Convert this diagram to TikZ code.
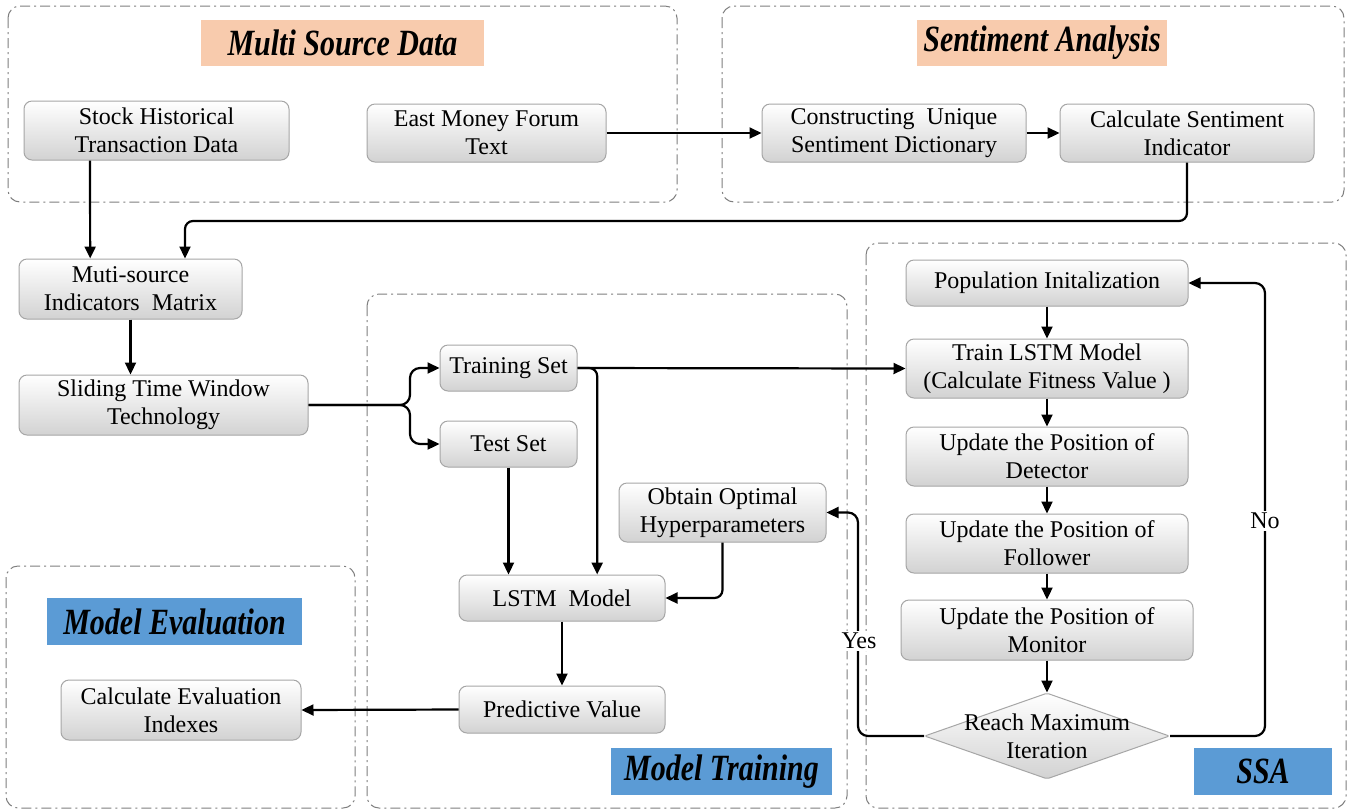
\documentclass[tikz,border=0pt]{standalone}
\usepackage{fontspec}
\setmainfont{Liberation Serif}
\newfontfamily\titlefont[FakeStretch=0.81]{Liberation Serif}
\usetikzlibrary{shapes.geometric,arrows.meta,calc}
\definecolor{peach}{HTML}{F8CBAD}
\definecolor{tblue}{HTML}{5B9BD5}
\definecolor{framegray}{HTML}{7F7F7F}
\definecolor{boxedge}{HTML}{A6A6A6}
\definecolor{boxbot}{HTML}{D2D2D2}
\begin{document}
\begin{tikzpicture}[x=0.5pt,y=-0.5pt,
 frame/.style={draw=framegray, line width=0.5pt, rounded corners=6pt, dash pattern=on 5pt off 2pt on 1pt off 2pt},
 title/.style={inner sep=0pt, font=\titlefont\fontsize{18.5}{20}\selectfont\bfseries\itshape},
 box/.style={draw=boxedge, line width=0.5pt, rounded corners=4pt, top color=white, bottom color=boxbot, align=center, inner sep=1pt, font=\fontsize{12}{14}\selectfont},
 arr/.style={-{Triangle[length=6pt,width=5.5pt]}, line width=1.1pt},
 lbl/.style={fill=white, inner sep=1pt, font=\fontsize{12}{14}\selectfont}
]
\useasboundingbox (0,0) rectangle (1351,811);
\fill[white] (0,0) rectangle (1351,811);

% frames
\draw[frame] (8,6) rectangle (677,202);
\draw[frame] (722,6) rectangle (1344,202);
\draw[frame] (367,294) rectangle (847,808);
\draw[frame] (866,243) rectangle (1346,808);
\draw[frame] (6,566) rectangle (355,808);

% titles
\node[title, fill=peach, minimum width=141.5pt, minimum height=23pt] (t1) at (342.5,43) {Multi Source Data};
\node[title, fill=peach, minimum width=125pt, minimum height=23pt] (t2) at (1042,43) {Sentiment Analysis};
\node[title, fill=tblue, minimum width=127.5pt, minimum height=23.5pt] (t3) at (174.5,621.5) {Model Evaluation};
\node[title, fill=tblue, minimum width=110.5pt, minimum height=23.5pt] (t4) at (721.5,771.5) {Model Training};
\node[title, fill=tblue, minimum width=69pt, minimum height=23.5pt] (t5) at (1263,771.5) {SSA};

% nodes
\node[box, minimum width=132.5pt, minimum height=29.5pt] (stock) at (156.5,130.5) {Stock Historical\\Transaction Data};
\node[box, minimum width=119.5pt, minimum height=29pt] (east) at (486.5,133) {East Money Forum\\Text};
\node[box, minimum width=132pt, minimum height=29pt] (cons) at (894,133) {Constructing~ Unique\\Sentiment Dictionary};
\node[box, minimum width=127pt, minimum height=29pt] (calc) at (1187,133) {Calculate Sentiment\\Indicator};
\node[box, minimum width=111.5pt, minimum height=30pt] (muti) at (130.5,289) {Muti-source\\Indicators~ Matrix};
\node[box, minimum width=144.5pt, minimum height=30pt] (slide) at (163.5,405) {Sliding Time Window\\Technology};
\node[box, minimum width=68.5pt, minimum height=23pt] (train) at (508.5,368) {Training Set};
\node[box, minimum width=68.5pt, minimum height=23pt] (test) at (508.5,444) {Test Set};
\node[box, minimum width=103.5pt, minimum height=29.5pt] (obtain) at (722.5,512.5) {Obtain Optimal\\Hyperparameters};
\node[box, minimum width=103pt, minimum height=23pt] (lstm) at (562,598) {LSTM~ Model};
\node[box, minimum width=103pt, minimum height=23.5pt] (pred) at (562,709.5) {Predictive Value};
\node[box, minimum width=120pt, minimum height=30pt] (evalc) at (181,710) {Calculate Evaluation\\Indexes};
\node[box, minimum width=141pt, minimum height=23pt] (pop) at (1047,283) {Population Initalization};
\node[box, minimum width=141pt, minimum height=29.5pt] (tlstm) at (1047,368.5) {Train LSTM Model\\(Calculate Fitness Value )};
\node[box, minimum width=141pt, minimum height=29.5pt] (det) at (1047,456.5) {Update the Position of\\Detector};
\node[box, minimum width=141pt, minimum height=29.5pt] (fol) at (1047,543.5) {Update the Position of\\Follower};
\node[box, minimum width=146pt, minimum height=30pt] (mon) at (1047,630) {Update the Position of\\Monitor};
\node[box, diamond, rounded corners=1pt, inner sep=0pt, minimum width=122.5pt, minimum height=43pt,
  label={[align=center, font=\fontsize{12}{14}\selectfont]center:Reach Maximum\\Iteration}] (dia) at (1047,736) {};

% connectors
\draw[arr] (east.east) -- (cons.west);
\draw[arr] (cons.east) -- (calc.west);
\draw[arr] ($(stock.south west)!0.25!(stock.south east)$) -- ($(muti.north west)!0.32!(muti.north east)$);
\coordinate (sc) at (185,221);
\draw[arr, rounded corners=4pt] (calc.south) |- (sc) -- (sc |- muti.north);
\draw[arr] (muti.south) -- (muti.south |- slide.north);
\coordinate (br) at (410,405);
\draw[arr, rounded corners=5pt] (slide.east) -- (br) |- (train.west);
\draw[arr, rounded corners=5pt] (slide.east) -- (br) |- (test.west);
\draw[arr] (train.east) -- (tlstm.west);
\draw[arr, rounded corners=4pt] (train.east) -| ($(lstm.north west)!0.67!(lstm.north east)$);
\draw[arr] (test.south) -- (test.south |- lstm.north);
\draw[arr, rounded corners=4pt] (obtain.south) |- (lstm.east);
\draw[arr] (lstm.south) -- (pred.north);
\draw[arr] (pred.west) -- (evalc.east);
\draw[arr] (pop.south) -- (tlstm.north);
\draw[arr] (tlstm.south) -- (det.north);
\draw[arr] (det.south) -- (fol.north);
\draw[arr] (fol.south) -- (mon.north);
\draw[arr] (mon.south) -- (dia.north);
\coordinate (nc) at (1265,283);
\draw[arr, rounded corners=5pt] (dia.east) -| (nc) -- (pop.east);
\coordinate (yc) at (858,512.5);
\draw[arr, rounded corners=5pt] (dia.west) -| (yc) -- (obtain.east);
\node[lbl] (yes) at (859,641) {Yes};
\node[lbl] (no) at (1265,521) {No};
\end{tikzpicture}
\end{document}
